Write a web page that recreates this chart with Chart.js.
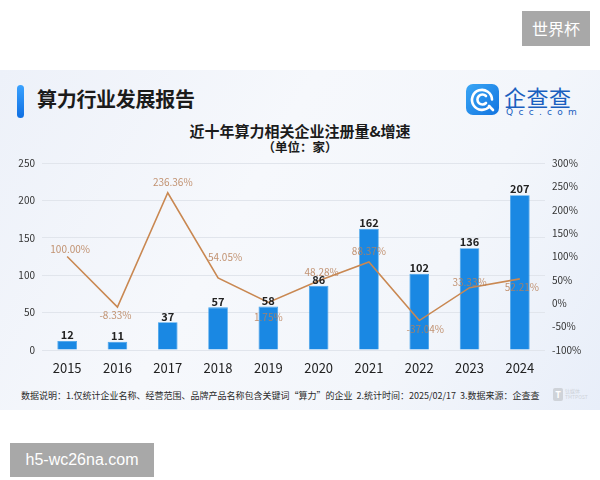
<!DOCTYPE html>
<html>
<head>
<meta charset="utf-8">
<script src="https://cdn.jsdelivr.net/npm/chart.js@4.4.1/dist/chart.umd.min.js"></script>
<style>
  html, body { margin:0; padding:0; background:#fff; }
  body { width:600px; height:480px; position:relative; overflow:hidden; font-family:"Noto Sans CJK SC","Noto Sans",sans-serif; }
  .panel { position:absolute; left:0; top:70px; width:600px; height:340px;
    background: linear-gradient(120deg, #edf1f9 0%, #f6f8fc 40%, #f3f6fb 70%, #e8eef9 100%); }
  .bar { position:absolute; left:17px; top:85px; width:7px; height:33px; border-radius:4px;
    background: linear-gradient(180deg,#3aa2ff,#0f6fe2); }
  .title { position:absolute; left:37px; top:85px; font-size:20px; font-weight:700; color:#1b1b1b; line-height:28px; letter-spacing:-0.3px; }
  .logo { position:absolute; left:466px; top:84px; width:33px; height:31px; border-radius:7px;
    background: linear-gradient(135deg,#3aa6f5,#1274e0); }
  .logotext { position:absolute; left:504px; top:82px; font-size:22px; color:#1a5fbf; line-height:28px; letter-spacing:0.5px; }
  .logosub { position:absolute; left:506px; top:107px; font-size:9px; color:#1a5fbf; letter-spacing:5.3px; line-height:11px; font-family:"DejaVu Sans",sans-serif; }
  .ctitle { position:absolute; left:0; width:600px; top:121px; text-align:center; font-size:15px; font-weight:700; color:#1b1b1b; line-height:20px; }
  .csub { position:absolute; left:0; width:600px; top:139px; text-align:center; font-size:12.5px; font-weight:700; color:#1b1b1b; line-height:16px; }
  .note { position:absolute; left:21px; top:389px; font-size:9px; color:#2a2a2a; line-height:14px; white-space:pre; }
  .tlogo { position:absolute; left:553px; top:388px; width:10px; height:13px; border-radius:2px; background:#cfd3d9; color:#fff; font-size:9px; line-height:13px; text-align:center; font-weight:700; }
  .tlogotxt { position:absolute; left:565px; top:388px; font-size:5px; line-height:6px; color:#cfd3d9; }
  .wm1 { position:absolute; left:522px; top:11px; width:68px; height:35px; background:#a8a8a8; color:#fff; font-size:16px; line-height:35px; text-align:center; }
  .wm2 { position:absolute; left:10px; top:443px; width:144px; height:34px; background:#a8a8a8; color:#fff; font-size:16px; line-height:34px; text-align:center; font-family:"Liberation Sans","DejaVu Sans",sans-serif; }
  #wrap { position:absolute; left:0; top:145px; width:600px; height:235px; }
</style>
</head>
<body>
<div class="panel"></div>
<div class="bar"></div>
<div class="title">算力行业发展报告</div>
<div class="logo">
  <svg width="33" height="31" viewBox="0 0 33 31">
    <path d="M23.5 22.5 A10 10 0 1 1 26 15.5" fill="none" stroke="#fff" stroke-width="2.6" stroke-linecap="round"/>
    <path d="M20 12 A5 5 0 1 0 20 19" fill="none" stroke="#fff" stroke-width="2.6" stroke-linecap="round"/>
    <path d="M23 22 L27 26" stroke="#fff" stroke-width="2.6" stroke-linecap="round"/>
  </svg>
</div>
<div class="logotext">企查查</div>
<div class="logosub">Qcc.com</div>
<div class="ctitle">近十年算力相关企业注册量&amp;增速</div>
<div class="csub">（单位：家）</div>
<div id="wrap"><canvas id="c" width="600" height="235"></canvas></div>
<div class="note">数据说明：1.仅统计企业名称、经营范围、品牌产品名称包含关键词“算力”的企业  2.统计时间：2025/02/17  3.数据来源：企查查</div>
<div class="tlogo">T</div>
<div class="tlogotxt">钛媒体<br>TMTPOST</div>
<div class="wm1">世界杯</div>
<div class="wm2">h5-wc26na.com</div>
<script>
const years = ['2015','2016','2017','2018','2019','2020','2021','2022','2023','2024'];
const registrations = [12, 11, 37, 57, 58, 86, 162, 102, 136, 207];
const growthRates = [100.00, -8.33, 236.36, 54.05, 1.75, 48.28, 88.37, -37.04, 33.33, 52.21];
const leftTicks = [0, 50, 100, 150, 200, 250];
const rightTicks = [-100, -50, 0, 50, 100, 150, 200, 250, 300];

const FONT = '"Noto Sans CJK SC","Noto Sans",sans-serif';

const labelPlugin = {
  id: 'valueLabels',
  afterDatasetsDraw(chart, args, opts) {
    const ctx = chart.ctx;
    ctx.save();
    const barMeta = chart.getDatasetMeta(0);
    ctx.font = '600 11px ' + FONT;
    ctx.fillStyle = '#222';
    ctx.textAlign = 'center';
    ctx.textBaseline = 'bottom';
    barMeta.data.forEach((el, i) => {
      ctx.fillText(String(registrations[i]), el.x, el.y - 0.5);
    });
    const lineMeta = chart.getDatasetMeta(1);
    ctx.font = '10px ' + FONT;
    ctx.fillStyle = 'rgba(184,128,88,0.85)';
    ctx.textBaseline = 'middle';
    lineMeta.data.forEach((el, i) => {
      const off = opts.offsets[i];
      ctx.fillText(growthRates[i].toFixed(2) + '%', el.x + off[0], el.y + off[1]);
    });
    ctx.restore();
  }
};

new Chart(document.getElementById('c'), {
  type: 'bar',
  data: {
    labels: years,
    datasets: [
      {
        type: 'bar',
        label: '注册量',
        data: registrations,
        yAxisID: 'y',
        backgroundColor: '#1a88e3',
        borderColor: '#3b9eea',
        borderWidth: 0.8,
        barPercentage: 0.39,
        categoryPercentage: 1,
        order: 1
      },
      {
        type: 'line',
        label: '增速',
        data: growthRates,
        yAxisID: 'y1',
        borderColor: '#c98852',
        borderWidth: 1.6,
        pointRadius: 0,
        tension: 0,
        fill: false,
        order: 0
      }
    ]
  },
  options: {
    responsive: false,
    animation: false,
    devicePixelRatio: 1,
    layout: { padding: { top: 18, bottom: 0, left: 0, right: 0 } },
    plugins: {
      legend: { display: false },
      tooltip: { enabled: false },
      valueLabels: {
        offsets: [[3,-7],[-2,8],[5,-11],[7,-21],[0,15],[3,-8],[0,-11],[6,9],[0,-5],[2,8]]
      }
    },
    scales: {
      x: {
        grid: { display: false },
        border: { display: false },
        ticks: { color: '#222', font: { size: 13, family: FONT }, padding: 2 },
        afterFit: (s) => { s.height = 30; }
      },
      y: {
        position: 'left',
        min: 0, max: 250,
        afterBuildTicks: (s) => { s.ticks = leftTicks.map(v => ({ value: v })); },
        grid: { color: '#e1e5ec', drawTicks: false, lineWidth: 1 },
        border: { display: false },
        ticks: { color: '#333', font: { size: 10, family: FONT }, padding: 7 },
        afterFit: (s) => { s.width = 42; }
      },
      y1: {
        position: 'right',
        min: -100, max: 300,
        afterBuildTicks: (s) => { s.ticks = rightTicks.map(v => ({ value: v })); },
        grid: { display: false, drawTicks: false },
        border: { display: false },
        ticks: { color: '#333', font: { size: 10, family: FONT }, padding: 7, callback: (v) => v + '%' },
        afterFit: (s) => { s.width = 55; }
      }
    }
  },
  plugins: [labelPlugin]
});
</script>
</body>
</html>
